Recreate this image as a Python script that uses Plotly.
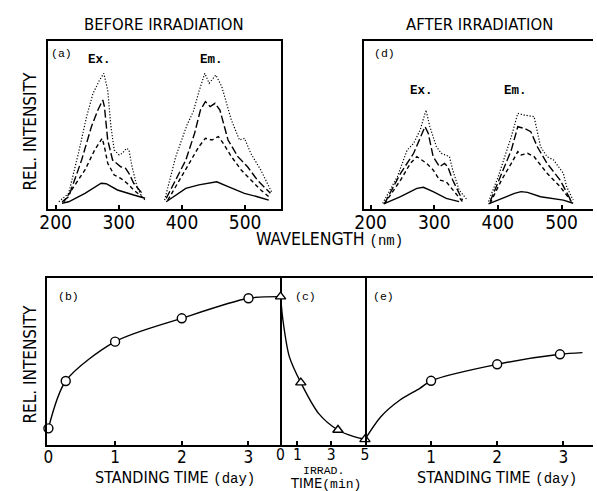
import plotly.graph_objects as go

W, H = 597, 491

# ---------------- data: spectra (wavelength nm, relative intensity) ----------------
# Panel (a) BEFORE IRRADIATION - excitation
a_ex_solid_w = [210, 220.6, 246.4, 272, 280, 297.8, 323.6, 341.6]
a_ex_solid_i = [3.4, 4.3, 9.3, 15.3, 15.0, 11.3, 8.3, 6.4]
a_ex_dash_w = [212.8, 246.4, 261.8, 269.5, 273.6, 277.2, 282.4, 292.7, 303, 313.1, 323.6, 336.5]
a_ex_dash_i = [4.3, 23.2, 35.1, 40, 42, 37, 27.2, 20.2, 18.2, 15.3, 11.3, 7.3]
a_ex_ldash_w = [210.2, 220.6, 241.1, 256.6, 266.9, 274.6, 277.2, 282.4, 290.1, 303, 310.7, 316, 323.6, 339.1]
a_ex_ldash_i = [4.3, 7.3, 29.1, 48.9, 58.8, 64.8, 60.8, 41, 29.1, 25.1, 24.2, 21.2, 15.3, 8.3]
a_ex_dot_w = [205, 220.6, 236, 248.9, 259.2, 269.5, 276.2, 282.4, 287.5, 292.7, 300.5, 305.6, 312.2, 316, 321, 328.7, 336.5, 341.6]
a_ex_dot_i = [4.3, 9.3, 33.1, 54.8, 68.7, 76.6, 80.6, 70.7, 48.9, 35.1, 32.1, 33.1, 36.1, 35.1, 25.1, 13.2, 7.3, 5.3]
# Panel (a) - emission
a_em_solid_w = [375, 406, 426.7, 442.2, 455, 473, 498.8, 519.3, 537.4]
a_em_solid_i = [4.3, 12.3, 14.3, 15.3, 16.2, 13.3, 9.3, 7.3, 5.3]
a_em_dash_w = [377.6, 406, 426.7, 437, 447.3, 457.6, 465.3, 478.3, 493.7, 509.2, 524.8, 537.4]
a_em_dash_i = [5.3, 23.2, 37, 42, 41, 43, 39, 31.1, 23.2, 17.2, 11.3, 7.3]
a_em_ldash_w = [375, 406, 420, 429.2, 437, 444.6, 452.3, 460, 472.9, 488.4, 503.8, 519.3, 540]
a_em_ldash_i = [6.3, 29, 45, 58.8, 63.8, 60.8, 62.8, 58.8, 41, 31.1, 25.1, 17.2, 9.3]
a_em_dot_w = [372.5, 390, 408, 418, 427, 436, 443, 453.6, 463, 478, 491, 499, 509, 525, 542]
a_em_dot_i = [5.3, 31, 50, 58, 70, 80.6, 74.7, 79.6, 72.7, 53, 41, 42, 33, 23, 10]

# Panel (d) AFTER IRRADIATION - excitation
d_ex_solid_w = [220.5, 247, 272.6, 282.9, 298.2, 318.7, 339]
d_ex_solid_i = [3, 7.3, 12.3, 12.9, 10.3, 6.3, 4.4]
d_ex_dash_w = [221.5, 247, 262.4, 272.6, 280.3, 288, 298.2, 308.4, 318.7, 334, 344.2]
d_ex_dash_i = [3, 17.2, 27.1, 31.1, 29.1, 27.1, 23.2, 17.2, 16.2, 9.3, 4.4]
d_ex_ldash_w = [221.5, 247, 267.5, 280.3, 285.4, 290.5, 298.2, 308.4, 316, 321.2, 328.9, 344.2]
d_ex_ldash_i = [3, 21.2, 33.1, 45, 48.9, 45, 31.1, 25.1, 27.1, 25.1, 17.2, 5.3]
d_ex_dot_w = [218.9, 242, 257.3, 267.5, 277.7, 287, 293, 303.3, 311, 318.7, 323.8, 328.9, 339, 351.9]
d_ex_dot_i = [3.4, 19.2, 35, 39, 46.9, 58.8, 48.9, 37, 33.1, 32.1, 31.1, 23.2, 11.3, 5.3]
# Panel (d) - emission
d_em_solid_w = [385.2, 405.6, 426, 436.3, 446.5, 467, 487.5, 502.8, 518.2]
d_em_solid_i = [3, 6.3, 9.3, 10.3, 9.9, 7.3, 6.3, 5.3, 3.4]
d_em_dash_w = [387.7, 405.6, 421, 431.2, 436.3, 446.5, 456.8, 477.2, 497.7, 515.6]
d_em_dash_i = [3.4, 17.2, 27.1, 34.1, 32.1, 33.1, 31.1, 21.2, 13.3, 4.4]
d_em_ldash_w = [387.7, 405.6, 421, 431.2, 441.4, 451.7, 461.9, 477.2, 497.7, 515.6]
d_em_ldash_i = [4.4, 21.2, 35, 48.9, 47.9, 45.9, 37, 27.1, 17.2, 4.4]
d_em_dot_w = [385.2, 400.5, 410.7, 421, 431.2, 441.4, 456.8, 467, 477.2, 487.5, 502.8, 507.9, 518.2]
d_em_dot_i = [4.4, 19.2, 31.1, 43, 56.8, 55.8, 54.9, 37, 31.1, 29.1, 21.2, 13.3, 5.3]

# ---------------- data: time courses ----------------
# (b) standing time before irradiation (day)
b_day = [0, 0.26, 1, 2, 3]
b_val = [10, 38.4, 62, 76, 88]
b_curve_day = [0, 0.26, 1, 2, 3, 3.476]
b_curve_val = [10, 38.4, 62, 76, 88, 89]
# (c) irradiation time (min)
c_min = [0, 1.2, 3.4, 5]
c_val = [89, 37.4, 9, 3.4]
c_curve_min = [0, 0.14, 0.52, 1.2, 2.25, 3.4, 4.35, 5]
c_curve_val = [89, 75, 53, 37.4, 19, 9, 5, 3.4]
# (e) standing time after irradiation (day)
e_day = [1, 2, 2.95]
e_val = [38.5, 48.4, 54.4]
e_curve_day = [0, 0.24, 0.53, 0.83, 1, 2, 2.95, 3.29]
e_curve_val = [3.4, 17, 27, 34, 38.5, 48.4, 54.4, 55.4]

top_ticks = [200, 300, 400, 500]
b_ticks = [0, 1, 2, 3]
c_ticks = [0, 1, 3, 5]
e_ticks = [1, 2, 3]

# ---------------- styling ----------------
BIG = "DejaVu Sans Condensed, Liberation Sans Narrow, DejaVu Sans"
MONO = "Liberation Mono, Courier New, DejaVu Sans Mono"
LW = 1.8


def fx(p):
    return p / W


def fy(p):
    return 1 - p / H


fig = go.Figure()


def add_spectra(xa, ya, sets):
    for (w, i), dash in zip(sets, ["solid", "4px,3px", "8px,3px", "1.2px,1.8px"]):
        fig.add_trace(go.Scatter(x=w, y=i, mode="lines", xaxis=xa, yaxis=ya,
                                 line=dict(color="black", width=1.4 if dash != "1.2px,1.8px" else 1.2, dash=dash),
                                 hoverinfo="skip"))


add_spectra("x", "y", [(a_ex_solid_w, a_ex_solid_i), (a_ex_dash_w, a_ex_dash_i),
                       (a_ex_ldash_w, a_ex_ldash_i), (a_ex_dot_w, a_ex_dot_i)])
add_spectra("x", "y", [(a_em_solid_w, a_em_solid_i), (a_em_dash_w, a_em_dash_i),
                       (a_em_ldash_w, a_em_ldash_i), (a_em_dot_w, a_em_dot_i)])
add_spectra("x2", "y2", [(d_ex_solid_w, d_ex_solid_i), (d_ex_dash_w, d_ex_dash_i),
                         (d_ex_ldash_w, d_ex_ldash_i), (d_ex_dot_w, d_ex_dot_i)])
add_spectra("x2", "y2", [(d_em_solid_w, d_em_solid_i), (d_em_dash_w, d_em_dash_i),
                         (d_em_ldash_w, d_em_ldash_i), (d_em_dot_w, d_em_dot_i)])

marker_circle = dict(symbol="circle", size=9, color="white", line=dict(color="black", width=1.4))
marker_tri = dict(symbol="triangle-up", size=9, color="white", line=dict(color="black", width=1.4))
curve_line = dict(color="black", width=1.4, shape="spline", smoothing=0.8)

# (b)
fig.add_trace(go.Scatter(x=b_curve_day, y=b_curve_val, mode="lines", xaxis="x3", yaxis="y3",
                         line=curve_line, cliponaxis=False, hoverinfo="skip"))
fig.add_trace(go.Scatter(x=b_day, y=b_val, mode="markers", xaxis="x3", yaxis="y3",
                         marker=marker_circle, cliponaxis=False, hoverinfo="skip"))
# (c)
fig.add_trace(go.Scatter(x=c_curve_min, y=c_curve_val, mode="lines", xaxis="x4", yaxis="y4",
                         line=curve_line, cliponaxis=False, hoverinfo="skip"))
fig.add_trace(go.Scatter(x=c_min, y=c_val, mode="markers", xaxis="x4", yaxis="y4",
                         marker=marker_tri, cliponaxis=False, hoverinfo="skip"))
# (e)
fig.add_trace(go.Scatter(x=e_curve_day, y=e_curve_val, mode="lines", xaxis="x5", yaxis="y5",
                         line=curve_line, cliponaxis=False, hoverinfo="skip"))
fig.add_trace(go.Scatter(x=e_day, y=e_val, mode="markers", xaxis="x5", yaxis="y5",
                         marker=marker_circle, cliponaxis=False, hoverinfo="skip"))


def xax(dom, rng, ticks, anchor, tfont=17, standoff=-4):
    return dict(domain=[fx(dom[0]), fx(dom[1])], range=rng, anchor=anchor,
                showline=True, linecolor="black", linewidth=LW, mirror=True,
                showgrid=False, zeroline=False, ticks="inside", ticklen=4,
                tickcolor="black", tickwidth=1.5, ticklabelstandoff=standoff,
                tickvals=ticks, ticktext=[str(t) for t in ticks],
                tickfont=dict(family=BIG, size=tfont, color="black"), fixedrange=True)


def yax(dom, anchor, showline=True, mirror=False, side="left"):
    return dict(domain=[fy(dom[1]), fy(dom[0])], range=[0, 100], anchor=anchor,
                showline=showline, linecolor="black", linewidth=LW, mirror=mirror, side=side,
                showgrid=False, zeroline=False, showticklabels=False, ticks="",
                fixedrange=True)


layout = dict(
    width=W, height=H, margin=dict(l=0, r=0, t=0, b=0),
    paper_bgcolor="white", plot_bgcolor="white", showlegend=False,
    xaxis=xax((39, 278), [188, 557.5], top_ticks, "y", tfont=19, standoff=-5),
    yaxis=yax((40.7, 209), "x", True, True),
    xaxis2=xax((363, 597), [190.3, 549.4], top_ticks, "y2", tfont=19, standoff=-5),
    yaxis2=yax((40.7, 209), "x2", True, False),
    xaxis3=xax((38.3, 276.7), [-0.015, 3.476], b_ticks, "y3"),
    yaxis3=yax((278.3, 445), "x3", True, True),
    xaxis4=xax((276.7, 363.5), [-0.02, 5.0], c_ticks, "y4", tfont=15.5, standoff=-6),
    yaxis4=yax((278.3, 445), "x4", True, False, "right"),
    xaxis5=xax((363.5, 597), [0, 3.45], e_ticks, "y5"),
    yaxis5=yax((278.3, 445), "x5", False),
)


def ann(x, y, text, size=17, family=BIG, angle=0, bold=False):
    return dict(x=fx(x), y=fy(y), xref="paper", yref="paper", text=("<b>%s</b>" % text) if bold else text,
                showarrow=False, xanchor="center", yanchor="middle", textangle=angle,
                font=dict(family=family, size=size, color="black"))


def small(t, s):
    return "<span style='font-family:Liberation Mono, Courier New, monospace;font-size:%dpx'>%s</span>" % (s, t)


annotations = [
    ann(158, 24, "BEFORE IRRADIATION", size=16.5),
    ann(481, 24, "AFTER IRRADIATION", size=16.5),
    ann(20, 132, "REL. INTENSITY", angle=-90),
    ann(20, 365, "REL. INTENSITY", angle=-90),
    ann(53, 54, "(a)", size=11.5, family=MONO),
    ann(383, 54, "(d)", size=11.5, family=MONO),
    ann(60, 296, "(b)", size=11.5, family=MONO),
    ann(303, 296, "(c)", size=11.5, family=MONO),
    ann(382, 296, "(e)", size=11.5, family=MONO),
    ann(92, 60, "Ex.", size=12.5, family=MONO, bold=True),
    ann(206, 60, "Em.", size=12.5, family=MONO, bold=True),
    ann(421, 91, "Ex.", size=12.5, family=MONO, bold=True),
    ann(518, 91, "Em.", size=12.5, family=MONO, bold=True),
    ann(327, 239, "WAVELENGTH " + small("(nm)", 14), size=17.5),
    ann(169, 477, "STANDING TIME " + small("(day)", 14), size=16),
    ann(499, 477, "STANDING TIME " + small("(day)", 14), size=16),
    ann(321, 470, "IRRAD.", size=11.5, family=MONO),
    ann(323, 483, "TIME" + small("(min)", 13), size=14.5),
]
layout["annotations"] = annotations

fig.update_layout(**layout)
fig.write_html("out.html", config={"displayModeBar": False},
               post_script="document.body.style.margin='0px';document.body.style.padding='0px';"
                           "document.body.style.overflow='hidden';")
